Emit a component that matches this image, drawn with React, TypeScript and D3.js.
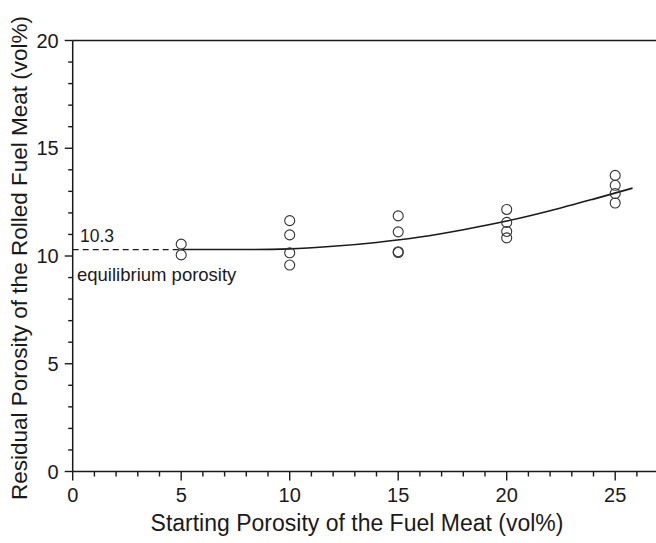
import React from "react";
import * as d3 from "d3";

const xMajorTicks = [0, 5, 10, 15, 20, 25];
const yMajorTicks = [0, 5, 10, 15, 20];

const pointX = [5, 5, 10, 10, 10, 10, 15, 15, 15, 15, 20, 20, 20, 20, 25, 25, 25, 25];
const pointY = [10.55, 10.05, 11.64, 10.98, 10.15, 9.58, 11.86, 11.12, 10.2, 10.16, 12.16, 11.56, 11.14, 10.84, 13.74, 13.28, 12.9, 12.46];

const fitX = [5, 8, 10, 12, 14, 16, 18, 20, 22, 24, 25.8];
const fitY = [10.3, 10.3, 10.33, 10.45, 10.63, 10.88, 11.22, 11.62, 12.1, 12.64, 13.15];

const dashX = [0, 5];
const dashY = [10.3, 10.3];

const equilibriumValue = "10.3";
const equilibriumLabel = "equilibrium porosity";
const xTitle = "Starting Porosity of the Fuel Meat (vol%)";
const yTitle = "Residual Porosity of the Rolled Fuel Meat (vol%)";

const W = 656;
const H = 543;
const FONT = "Liberation Sans, Arial, sans-serif";
const INK = "#1a1a1a";

export default function App() {
  const x = d3.scaleLinear().domain([0, 27]).range([72.7, 72.7 + 27 * 21.7]);
  const y = d3.scaleLinear().domain([0, 20]).range([471.5, 40.5]);
  const x0 = x(0);
  const y0 = y(0);
  const xMinor = d3.range(0, 27, 1).filter((v) => v % 5 !== 0);
  const yMinor = d3.range(0, 20, 1).filter((v) => v % 5 !== 0);

  const fitLine = d3
    .line<number>()
    .x((_, i) => x(fitX[i]))
    .y((_, i) => y(fitY[i]))
    .curve(d3.curveMonotoneX)(fitX);
  const dashLine = d3
    .line<number>()
    .x((_, i) => x(dashX[i]))
    .y((_, i) => y(dashY[i]))(dashX);

  return (
    <svg
      width={W}
      height={H}
      style={{ position: "fixed", top: 0, left: 0, background: "#fff" }}
      fontFamily={FONT}
    >
      <rect x={0} y={0} width={W} height={H} fill="#fff" />
      {/* top frame line */}
      <line x1={x0} x2={W} y1={y(20)} y2={y(20)} stroke={INK} strokeWidth={1.5} />
      {/* axes */}
      <line x1={x0} x2={W} y1={y0} y2={y0} stroke={INK} strokeWidth={1.5} />
      <line x1={x0} x2={x0} y1={y(20)} y2={y0} stroke={INK} strokeWidth={1.5} />
      {xMajorTicks.map((t) => (
        <g key={"xt" + t}>
          <line x1={x(t)} x2={x(t)} y1={y0} y2={y0 + 9} stroke={INK} strokeWidth={1.4} />
          <text x={x(t)} y={y0 + 30} textAnchor="middle" fontSize={20} fill={INK}>
            {t}
          </text>
        </g>
      ))}
      {xMinor.map((t) => (
        <line key={"xm" + t} x1={x(t)} x2={x(t)} y1={y0} y2={y0 + 5} stroke={INK} strokeWidth={1.4} />
      ))}
      {yMajorTicks.map((t) => (
        <g key={"yt" + t}>
          <line x1={x0 - 8} x2={x0} y1={y(t)} y2={y(t)} stroke={INK} strokeWidth={1.4} />
          <text x={x0 - 14} y={y(t) + 7} textAnchor="end" fontSize={20} fill={INK}>
            {t}
          </text>
        </g>
      ))}
      {yMinor.map((t) => (
        <line key={"ym" + t} x1={x0 - 4.5} x2={x0} y1={y(t)} y2={y(t)} stroke={INK} strokeWidth={1.4} />
      ))}
      {/* axis titles */}
      <text x={357} y={531} textAnchor="middle" fontSize={23} fill={INK}>
        {xTitle}
      </text>
      <text
        transform={`translate(27, ${y(10) + 2}) rotate(-90)`}
        textAnchor="middle"
        fontSize={22.5}
        fill={INK}
      >
        {yTitle}
      </text>
      {/* equilibrium line and labels */}
      <path d={dashLine || ""} fill="none" stroke={INK} strokeWidth={1.2} strokeDasharray="6,4" />
      <path d={fitLine || ""} fill="none" stroke={INK} strokeWidth={1.6} />
      <text x={80} y={y(10.3) - 8} fontSize={17.5} fill={INK}>
        {equilibriumValue}
      </text>
      <text x={77} y={y(10.3) + 31} fontSize={18.5} fill={INK}>
        {equilibriumLabel}
      </text>
      {/* points */}
      {pointX.map((px, i) => (
        <circle
          key={"p" + i}
          cx={x(px)}
          cy={y(pointY[i])}
          r={5}
          fill="none"
          stroke="#333"
          strokeWidth={1.1}
        />
      ))}
    </svg>
  );
}
